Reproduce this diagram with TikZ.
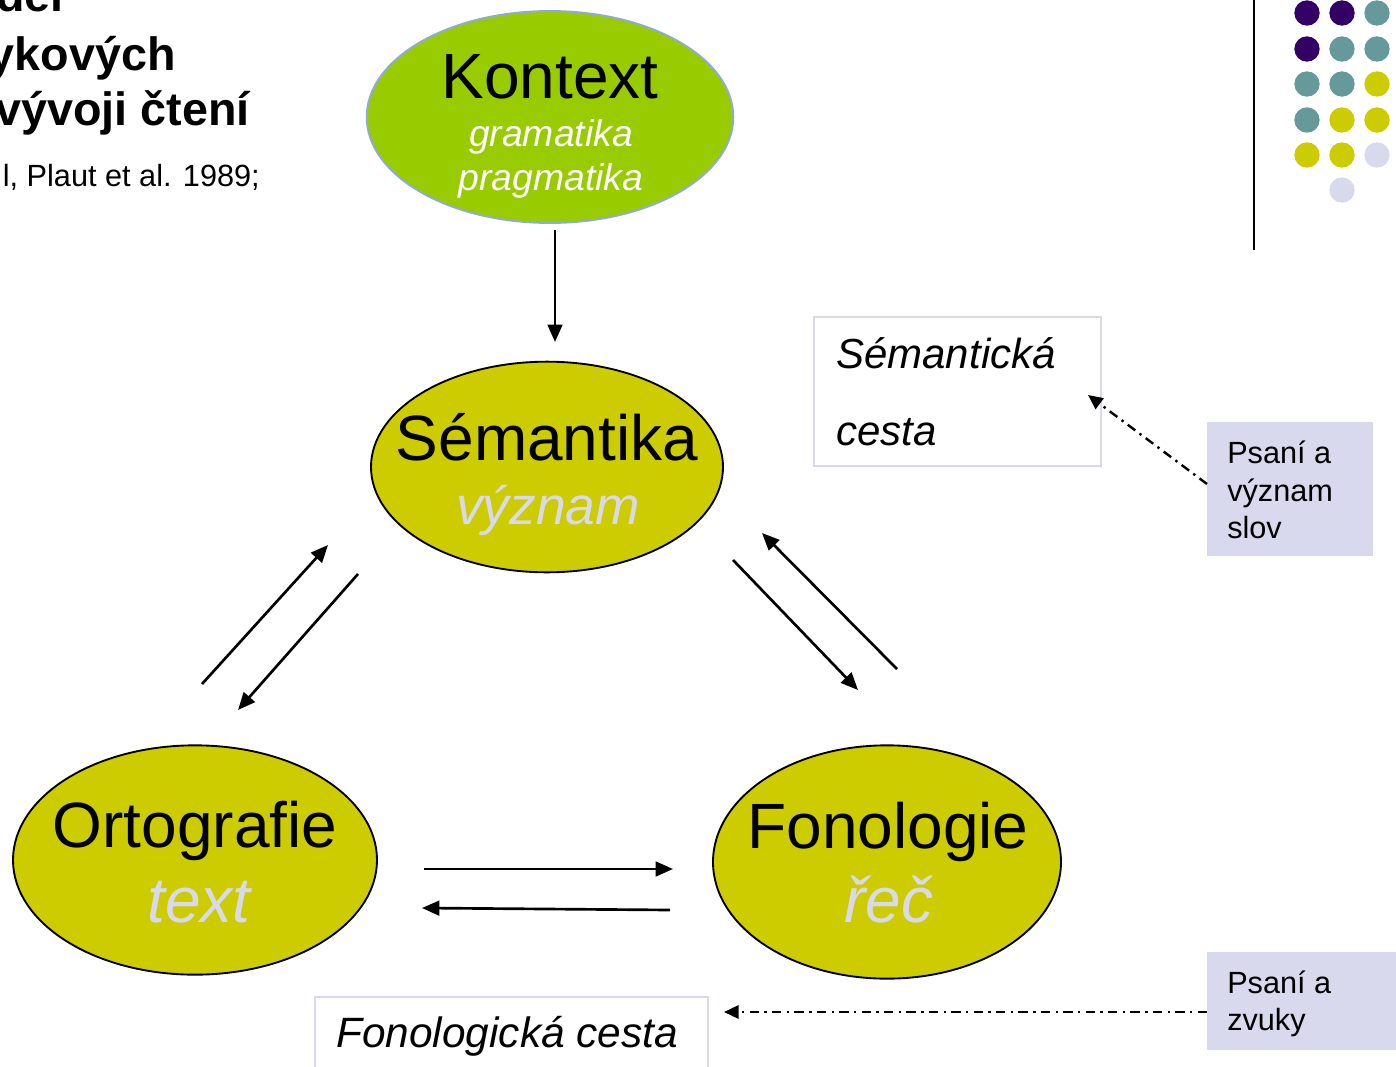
\documentclass[tikz,border=0pt]{standalone}
\usepackage{fontspec}
\setmainfont{Liberation Sans}
\usetikzlibrary{arrows.meta,shapes.geometric}
\definecolor{kgreen}{HTML}{99CC00}
\definecolor{kblue}{HTML}{8EA9E0}
\definecolor{yel}{HTML}{CCCC00}
\definecolor{lav}{HTML}{D9D9EE}
\definecolor{purp}{HTML}{330066}
\definecolor{teal}{HTML}{669999}
\tikzset{
  ell/.style={ellipse, draw=black, line width=1.4pt, fill=yel, inner sep=0pt},
  big/.style={anchor=base, inner sep=0pt, font=\fontsize{48}{48}\selectfont, text=black},
  sub/.style={anchor=base, inner sep=0pt, font=\fontsize{40}{40}\selectfont\itshape, text=lav},
  arr/.style={line width=2pt, -{Triangle[length=13pt,width=11pt]}},
  dd/.style={line width=1.8pt, dash pattern=on 7pt off 4pt on 1.8pt off 4pt, -{Triangle[length=11pt,width=10pt]}},
  framebox/.style={draw=lav, line width=1.6pt, fill=white},
  lavbox/.style={fill=lav, draw=none},
  dot/.style={circle, inner sep=0pt, minimum size=19pt},
  ttl/.style={anchor=base east, inner sep=0pt, font=\fontsize{35}{35}\selectfont\bfseries},
  txt/.style={anchor=base west, inner sep=0pt},
}
\begin{document}
\begin{tikzpicture}[x=0.75pt,y=-0.75pt]
\useasboundingbox (0,0) rectangle (1396,1067);
\clip (0,0) rectangle (1396,1067);
% title fragments
\node[ttl] (t0) at (64,12) {del};
\node[ttl] (t1) at (176,70) {ykových};
\node[ttl] (t2) at (250,125) {vývoji čtení};
\node[anchor=base east, inner sep=0pt, font=\fontsize{23}{23}\selectfont] (t3) at (260,186) {l, Plaut et al. 1989;};
% vertical line and dots
\draw[line width=1.8pt] (1254,0) coordinate (vl0) -- (1254,250) coordinate (vl1);
\foreach \c [count=\i] in {purp,purp,teal}{\node[dot,fill=\c] (d1\i) at (1272+35*\i,13) {};}
\foreach \c [count=\i] in {purp,teal,teal}{\node[dot,fill=\c] (d2\i) at (1272+35*\i,49) {};}
\foreach \c [count=\i] in {teal,teal,yel}{\node[dot,fill=\c] (d3\i) at (1272+35*\i,84) {};}
\foreach \c [count=\i] in {teal,yel,yel}{\node[dot,fill=\c] (d4\i) at (1272+35*\i,120) {};}
\foreach \c [count=\i] in {yel,yel,lav}{\node[dot,fill=\c] (d5\i) at (1272+35*\i,155) {};}
\node[dot,fill=lav] (d62) at (1342,190) {};
% Kontext
\node[ellipse, draw=kblue, line width=1.4pt, fill=kgreen, minimum width=275pt, minimum height=159pt] (kon) at (550,117) {};
\node[anchor=base, inner sep=0pt, font=\fontsize{48}{48}\selectfont] (konT) at (550,98) {Kontext};
\node[anchor=base, inner sep=0pt, font=\fontsize{28}{28}\selectfont\itshape, text=white] (konG) at (551,146) {gramatika};
\node[anchor=base, inner sep=0pt, font=\fontsize{28}{28}\selectfont\itshape, text=white] (konP) at (551,190) {pragmatika};
% Semantika
\node[ell, minimum width=264pt, minimum height=158pt] (sem) at (547,467) {};
\node[big] (semT) at (547,460) {Sémantika};
\node[sub] (semS) at (548,524) {význam};
% Ortografie
\node[ell, minimum width=273pt, minimum height=172pt] (ort) at (195,860) {};
\node[big] (ortT) at (195,847) {Ortografie};
\node[sub, font=\fontsize{48}{48}\selectfont\itshape] (ortS) at (199,922) {text};
% Fonologie
\node[ell, minimum width=261pt, minimum height=175pt] (fon) at (887,862) {};
\node[big] (fonT) at (888,848) {Fonologie};
\node[sub, font=\fontsize{48}{48}\selectfont\itshape] (fonS) at (889,922) {řeč};
% arrow endpoints
\coordinate (a1) at (555,230); \coordinate (a2) at (555,342);
\coordinate (b1) at (202,684); \coordinate (b2) at (328,545);
\coordinate (c1) at (358,574); \coordinate (c2) at (238,710);
\coordinate (e1) at (733,560); \coordinate (e2) at (858,690);
\coordinate (f1) at (897,669); \coordinate (f2) at (762,533);
\coordinate (g1) at (424,869); \coordinate (g2) at (673,869);
\coordinate (h1) at (670,910); \coordinate (h2) at (422,908);
\draw[arr] (a1) -- (a2);
\draw[arr] (b1) -- (b2);
\draw[arr] (c1) -- (c2);
\draw[arr] (e1) -- (e2);
\draw[arr] (f1) -- (f2);
\draw[arr] (g1) -- (g2);
\draw[arr] (h1) -- (h2);
% Semanticka cesta box
\draw[framebox] (814,317) rectangle (1101,466);
\node[txt, font=\fontsize{31.5}{31.5}\selectfont\itshape] (sc1) at (836,368) {Sémantická};
\node[txt, font=\fontsize{31.5}{31.5}\selectfont\itshape] (sc2) at (836,445) {cesta};
% Psani a vyznam slov
\node[lavbox, anchor=north west, minimum width=124.5pt, minimum height=100.5pt] (pvs) at (1207,422) {};
\node[txt, font=\fontsize{23}{23}\selectfont] (pvs1) at (1227,463) {Psaní a};
\node[txt, font=\fontsize{23}{23}\selectfont] (pvs2) at (1227,501) {význam};
\node[txt, font=\fontsize{23}{23}\selectfont] (pvs3) at (1227,538) {slov};
\coordinate (s1) at (1207,484); \coordinate (s2) at (1088,395);
\draw[dd] (s1) -- (s2);
% Fonologicka cesta box
\draw[framebox] (315,997) rectangle (708,1080);
\node[txt, font=\fontsize{31.8}{31.8}\selectfont\itshape] (fc) at (336,1047) {Fonologická cesta};
% Psani a zvuky
\node[lavbox, anchor=north west, minimum width=150pt, minimum height=73.5pt] (pz) at (1207,952) {};
\node[txt, font=\fontsize{23}{23}\selectfont] (pz1) at (1227,993) {Psaní a};
\node[txt, font=\fontsize{23}{23}\selectfont] (pz2) at (1227,1030) {zvuky};
\coordinate (z1) at (1207,1012); \coordinate (z2) at (724,1012);
\draw[dd] (z1) -- (z2);
\end{tikzpicture}
\end{document}
